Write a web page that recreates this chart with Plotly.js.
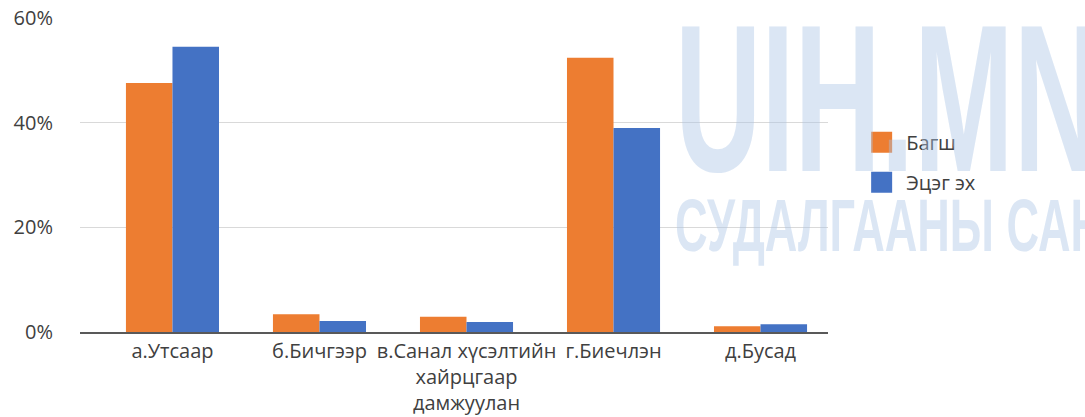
<!DOCTYPE html>
<html>
<head>
<meta charset="utf-8">
<script src="https://cdn.plot.ly/plotly-3.0.1.min.js"></script>
<style>html,body{margin:0;padding:0;background:#fff;}</style>
</head>
<body>
<div id="chart" style="width:1085px;height:417px;"></div>
<script>
const categories = ["а.Утсаар", "б.Бичгээр", "в.Санал хүсэлтийн<br>хайрцгаар<br>дамжуулан", "г.Биечлэн", "д.Бусад"];
const seriesNames = ["Багш", "Эцэг эх"];
const teacherValues = [0.476, 0.034, 0.029, 0.524, 0.011];
const parentValues = [0.545, 0.021, 0.019, 0.390, 0.015];
const yTickValues = [0, 0.2, 0.4, 0.6];
const yTickLabels = ["0%", "20%", "40%", "60%"];
const watermarkLines = ["UIH.MN", "СУДАЛГААНЫ САН"];
const watermarkLengths = [425, 428];

const font = "'Open Sans', 'Noto Sans', sans-serif";
const wmFont = "'Liberation Sans', Arial, sans-serif";
const wmColor = "rgba(169,196,228,0.42)";

const traces = [
  {type: "bar", name: seriesNames[0], x: categories, y: teacherValues,
   marker: {color: "#ED7D31"}, legendgroup: "a", hoverinfo: "skip"},
  {type: "bar", name: seriesNames[1], x: categories, y: parentValues,
   marker: {color: "#4472C4"}, legendgroup: "b", hoverinfo: "skip"}
];

const layout = {
  width: 1085, height: 417,
  margin: {l: 80, r: 257, t: 18, b: 85, pad: 0},
  paper_bgcolor: "#ffffff", plot_bgcolor: "rgba(0,0,0,0)",
  barmode: "group", bargap: 0.367, bargroupgap: 0,
  font: {family: font, color: "#404040", size: 20},
  xaxis: {
    type: "category", range: [-0.629, 4.459], fixedrange: true,
    showgrid: false, zeroline: false, showline: true,
    linecolor: "#595959", linewidth: 2, ticks: "",
    tickfont: {family: font, size: 20, color: "#404040"}
  },
  yaxis: {
    range: [0, 0.6], tickvals: yTickValues, ticktext: yTickLabels,
    showgrid: true, gridcolor: "#d9d9d9", gridwidth: 1.5,
    zeroline: false, showline: false, ticks: "", ticklabelstandoff: 26,
    tickfont: {family: font, size: 20, color: "#404040"}, fixedrange: true
  },
  showlegend: true,
  legend: {
    x: 1.051, xanchor: "left", y: 0.541, yanchor: "middle",
    traceorder: "grouped", tracegroupgap: 11,
    font: {family: font, size: 20, color: "#404040"},
    bgcolor: "rgba(0,0,0,0)"
  },
  annotations: [
    {xref: "paper", yref: "paper", x: (673 - 80) / 748, y: (332 + 21) / 314,
     xanchor: "left", yanchor: "top", showarrow: false, text: watermarkLines[0],
     font: {family: wmFont, size: 210, color: wmColor, weight: 700}},
    {xref: "paper", yref: "paper", x: (673 - 80) / 748, y: (332 - 182) / 314,
     xanchor: "left", yanchor: "top", showarrow: false, text: watermarkLines[1],
     font: {family: wmFont, size: 74, color: wmColor, weight: 700}}
  ]
};

const gd = document.getElementById("chart");

function adjust() {
  // condense the watermark text horizontally, like the reference's narrow face
  gd.querySelectorAll(".annotation-text").forEach(function (t) {
    const idx = watermarkLines.indexOf(t.textContent);
    if (idx >= 0 && !t.hasAttribute("data-condensed")) {
      const w = t.getComputedTextLength();
      const anchor = t.getAttribute("text-anchor") || "start";
      let x = parseFloat(t.getAttribute("x")) || 0;
      if (anchor === "middle") x -= w / 2;
      else if (anchor === "end") x -= w;
      t.setAttribute("text-anchor", "start");
      t.style.textAnchor = "start";
      t.setAttribute("x", x);
      t.setAttribute("textLength", watermarkLengths[idx]);
      t.setAttribute("lengthAdjust", "spacingAndGlyphs");
      t.setAttribute("data-condensed", "1");
    }
  });
  // larger square legend swatches
  gd.querySelectorAll(".legend .legendpoints path").forEach(function (p) {
    p.setAttribute("d", "M6,10.5H-15V-10.5H6Z");
  });
}

Plotly.newPlot(gd, traces, layout, {displayModeBar: false, staticPlot: true}).then(function () {
  adjust();
  gd.on("plotly_afterplot", adjust);
});
</script>
</body>
</html>
